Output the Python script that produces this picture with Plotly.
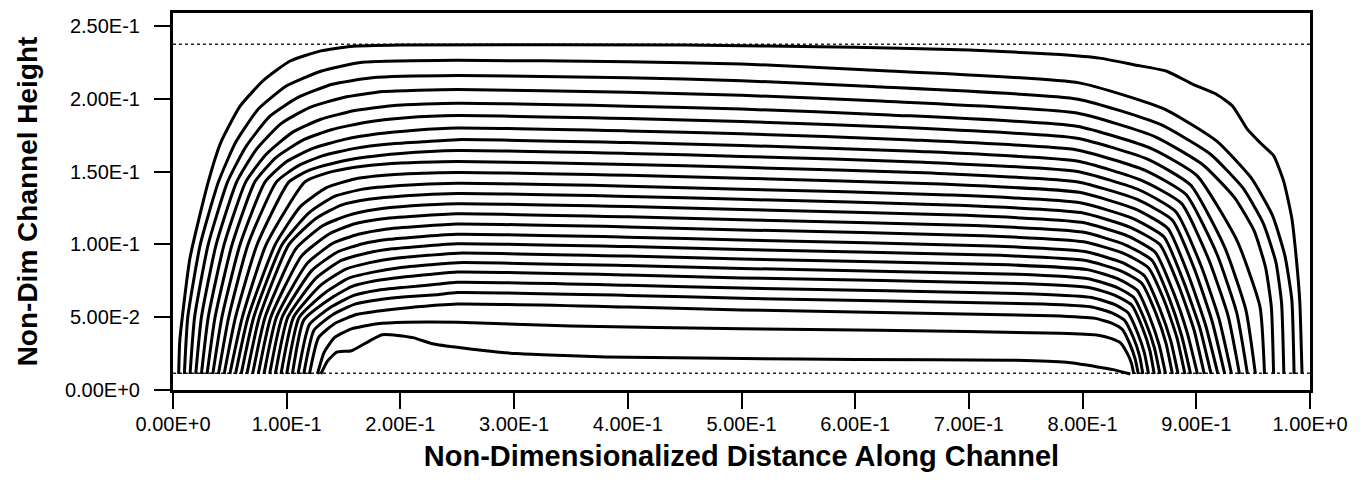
import plotly.graph_objects as go

# ---------------- tick labels ----------------
x_tick_vals = [0.0, 0.1, 0.2, 0.3, 0.4, 0.5, 0.6, 0.7, 0.8, 0.9, 1.0]
x_tick_text = ["0.00E+0", "1.00E-1", "2.00E-1", "3.00E-1", "4.00E-1", "5.00E-1",
               "6.00E-1", "7.00E-1", "8.00E-1", "9.00E-1", "1.00E+0"]
y_tick_vals = [0.0, 0.05, 0.10, 0.15, 0.20, 0.25]
y_tick_text = ["0.00E+0", "5.00E-2", "1.00E-1", "1.50E-1", "2.00E-1", "2.50E-1"]

# channel boundaries (dotted lines)
wall_x = [0.0, 1.0]
wall_top_y = [0.2375, 0.2375]
wall_bot_y = [0.0115, 0.0115]

# ---------------- contour lines (outermost -> innermost) ----------------
c00_x = [0.005, 0.006, 0.015, 0.031, 0.042, 0.059, 0.080, 0.103, 0.130, 0.156, 0.200, 0.450, 0.600, 0.700, 0.780, 0.815, 0.845, 0.874, 0.897, 0.918, 0.932, 0.945, 0.956, 0.968, 0.977, 0.984, 0.988, 0.991, 0.993]
c00_y = [0.011, 0.034, 0.091, 0.143, 0.170, 0.195, 0.213, 0.226, 0.233, 0.236, 0.237, 0.237, 0.2355, 0.2335, 0.2305, 0.228, 0.2235, 0.219, 0.210, 0.203, 0.195, 0.179, 0.170, 0.161, 0.143, 0.118, 0.090, 0.061, 0.011]
c01_x = [0.010, 0.013, 0.024, 0.040, 0.055, 0.075, 0.100, 0.130, 0.165, 0.25, 0.40, 0.50, 0.6075, 0.797, 0.872, 0.918, 0.948, 0.967, 0.978, 0.984, 0.986]
c01_y = [0.011, 0.050, 0.100, 0.143, 0.170, 0.193, 0.209, 0.219, 0.225, 0.2265, 0.2255, 0.224, 0.220, 0.211, 0.193, 0.171, 0.146, 0.120, 0.092, 0.062, 0.011]
c02_x = [0.015, 0.019, 0.031, 0.048, 0.064, 0.085, 0.110, 0.140, 0.175, 0.25, 0.40, 0.50, 0.615, 0.796, 0.868, 0.912, 0.941, 0.959, 0.970, 0.975, 0.977]
c02_y = [0.011, 0.050, 0.100, 0.143, 0.167, 0.188, 0.201, 0.210, 0.2145, 0.216, 0.2145, 0.2125, 0.2085, 0.1998, 0.1826, 0.1623, 0.1388, 0.1143, 0.0878, 0.0596, 0.011]
c03_x = [0.020, 0.025, 0.038, 0.056, 0.073, 0.095, 0.120, 0.150, 0.185, 0.25, 0.40, 0.50, 0.6225, 0.795, 0.864, 0.906, 0.9335, 0.951, 0.961, 0.966, 0.968]
c03_y = [0.011, 0.050, 0.100, 0.143, 0.165, 0.183, 0.194, 0.201, 0.205, 0.2065, 0.2045, 0.2025, 0.1985, 0.1903, 0.1739, 0.1546, 0.1323, 0.1091, 0.0839, 0.0571, 0.011]
c04_x = [0.025, 0.031, 0.045, 0.064, 0.082, 0.105, 0.130, 0.160, 0.195, 0.25, 0.40, 0.50, 0.630, 0.795, 0.861, 0.9006, 0.936, 0.956, 0.960]
c04_y = [0.011, 0.050, 0.100, 0.143, 0.162, 0.177, 0.186, 0.192, 0.1955, 0.197, 0.195, 0.193, 0.189, 0.1812, 0.1657, 0.1473, 0.1023, 0.0573, 0.011]
c05_x = [0.030, 0.037, 0.052, 0.072, 0.091, 0.115, 0.140, 0.170, 0.205, 0.25, 0.40, 0.50, 0.6375, 0.795, 0.858, 0.895, 0.925, 0.9436, 0.952]
c05_y = [0.011, 0.050, 0.100, 0.143, 0.160, 0.172, 0.179, 0.184, 0.187, 0.1885, 0.1865, 0.1845, 0.1805, 0.173, 0.1583, 0.1408, 0.098, 0.0551, 0.011]
c06_x = [0.035, 0.043, 0.059, 0.081, 0.100, 0.123, 0.150, 0.180, 0.213, 0.25, 0.40, 0.50, 0.645, 0.795, 0.855, 0.891, 0.918, 0.9356, 0.945]
c06_y = [0.011, 0.050, 0.100, 0.143, 0.157, 0.166, 0.172, 0.176, 0.1785, 0.180, 0.178, 0.176, 0.172, 0.1649, 0.1509, 0.1343, 0.0936, 0.0529, 0.011]
c07_x = [0.040, 0.049, 0.066, 0.091, 0.110, 0.132, 0.160, 0.190, 0.220, 0.25, 0.40, 0.50, 0.6525, 0.795, 0.852, 0.887, 0.911, 0.928, 0.938]
c07_y = [0.011, 0.050, 0.100, 0.143, 0.154, 0.161, 0.166, 0.169, 0.1705, 0.172, 0.170, 0.168, 0.164, 0.1573, 0.144, 0.1282, 0.0895, 0.0508, 0.011]
c08_x = [0.045, 0.055, 0.074, 0.102, 0.120, 0.142, 0.170, 0.200, 0.25, 0.40, 0.50, 0.660, 0.7955, 0.850, 0.882, 0.904, 0.920, 0.931]
c08_y = [0.011, 0.050, 0.100, 0.143, 0.151, 0.156, 0.160, 0.1625, 0.1645, 0.1625, 0.1605, 0.1565, 0.1501, 0.1374, 0.1225, 0.0857, 0.0489, 0.011]
c09_x = [0.050, 0.061, 0.082, 0.116, 0.135, 0.160, 0.190, 0.25, 0.40, 0.50, 0.6675, 0.796, 0.848, 0.879, 0.899, 0.914, 0.925]
c09_y = [0.011, 0.050, 0.100, 0.143, 0.149, 0.153, 0.1555, 0.157, 0.155, 0.153, 0.149, 0.1429, 0.1309, 0.1167, 0.0818, 0.0469, 0.011]
c10_x = [0.055, 0.066, 0.090, 0.112, 0.135, 0.160, 0.195, 0.25, 0.40, 0.50, 0.675, 0.797, 0.846, 0.875, 0.8935, 0.908, 0.919]
c10_y = [0.011, 0.050, 0.100, 0.126, 0.139, 0.145, 0.148, 0.1495, 0.1475, 0.1455, 0.1415, 0.1358, 0.1244, 0.111, 0.078, 0.045, 0.011]
c11_x = [0.060, 0.071, 0.096, 0.120, 0.142, 0.167, 0.200, 0.25, 0.40, 0.50, 0.6825, 0.798, 0.844, 0.8715, 0.889, 0.903, 0.913]
c11_y = [0.011, 0.050, 0.100, 0.122, 0.133, 0.138, 0.1405, 0.142, 0.140, 0.138, 0.134, 0.1286, 0.1179, 0.1052, 0.0741, 0.043, 0.011]
c12_x = [0.065, 0.076, 0.102, 0.126, 0.148, 0.172, 0.205, 0.25, 0.40, 0.50, 0.690, 0.7985, 0.842, 0.868, 0.885, 0.898, 0.907]
c12_y = [0.011, 0.050, 0.100, 0.118, 0.127, 0.131, 0.1335, 0.135, 0.133, 0.131, 0.127, 0.1219, 0.1118, 0.0999, 0.0706, 0.0412, 0.011]
c13_x = [0.070, 0.081, 0.108, 0.132, 0.154, 0.178, 0.210, 0.25, 0.40, 0.50, 0.6975, 0.799, 0.840, 0.864, 0.880, 0.892, 0.901]
c13_y = [0.011, 0.050, 0.097, 0.113, 0.120, 0.124, 0.1265, 0.128, 0.126, 0.124, 0.120, 0.1152, 0.1057, 0.0945, 0.0669, 0.0394, 0.011]
c14_x = [0.075, 0.086, 0.113, 0.137, 0.159, 0.183, 0.215, 0.25, 0.40, 0.50, 0.705, 0.800, 0.838, 0.861, 0.876, 0.887, 0.895]
c14_y = [0.011, 0.050, 0.092, 0.107, 0.114, 0.1175, 0.1195, 0.121, 0.119, 0.117, 0.113, 0.1085, 0.0996, 0.0891, 0.0633, 0.0376, 0.011]
c15_x = [0.080, 0.091, 0.118, 0.141, 0.163, 0.187, 0.218, 0.25, 0.40, 0.50, 0.7125, 0.801, 0.837, 0.858, 0.8726, 0.883, 0.890]
c15_y = [0.011, 0.050, 0.087, 0.101, 0.107, 0.1105, 0.1125, 0.114, 0.112, 0.110, 0.106, 0.1018, 0.0936, 0.0838, 0.0598, 0.0358, 0.011]
c16_x = [0.085, 0.096, 0.122, 0.145, 0.167, 0.190, 0.220, 0.25, 0.40, 0.50, 0.720, 0.802, 0.835, 0.8545, 0.8677, 0.8775, 0.884]
c16_y = [0.011, 0.050, 0.082, 0.095, 0.1005, 0.1035, 0.1055, 0.107, 0.105, 0.103, 0.099, 0.0951, 0.0875, 0.0784, 0.0562, 0.0339, 0.011]
c17_x = [0.090, 0.101, 0.126, 0.148, 0.170, 0.193, 0.222, 0.25, 0.40, 0.50, 0.7275, 0.803, 0.8335, 0.852, 0.8644, 0.8733, 0.879]
c17_y = [0.011, 0.050, 0.077, 0.089, 0.094, 0.097, 0.099, 0.1005, 0.0985, 0.0965, 0.0925, 0.0889, 0.0818, 0.0734, 0.0528, 0.0322, 0.011]
c18_x = [0.095, 0.106, 0.130, 0.152, 0.173, 0.196, 0.224, 0.25, 0.40, 0.50, 0.735, 0.804, 0.8316, 0.848, 0.8593, 0.8675, 0.873]
c18_y = [0.011, 0.050, 0.072, 0.083, 0.0875, 0.0905, 0.0925, 0.094, 0.092, 0.090, 0.086, 0.0827, 0.0762, 0.0685, 0.0495, 0.0305, 0.011]
c19_x = [0.100, 0.111, 0.134, 0.155, 0.176, 0.199, 0.226, 0.25, 0.40, 0.50, 0.7425, 0.805, 0.830, 0.845, 0.8556, 0.8632, 0.868]
c19_y = [0.011, 0.050, 0.067, 0.077, 0.081, 0.084, 0.086, 0.0875, 0.0855, 0.0835, 0.0795, 0.0765, 0.0705, 0.0635, 0.0462, 0.0288, 0.011]
c20_x = [0.105, 0.115, 0.137, 0.157, 0.178, 0.201, 0.228, 0.25, 0.40, 0.50, 0.750, 0.8065, 0.829, 0.843, 0.8526, 0.8592, 0.863]
c20_y = [0.011, 0.048, 0.062, 0.071, 0.075, 0.0775, 0.0795, 0.081, 0.079, 0.077, 0.073, 0.0703, 0.0649, 0.0585, 0.0428, 0.0271, 0.011]
c21_x = [0.110, 0.120, 0.139, 0.159, 0.180, 0.203, 0.230, 0.25, 0.40, 0.50, 0.7575, 0.808, 0.828, 0.840, 0.8484, 0.8544, 0.858]
c21_y = [0.011, 0.045, 0.057, 0.065, 0.0685, 0.0705, 0.0725, 0.074, 0.072, 0.070, 0.066, 0.0636, 0.0588, 0.0531, 0.0392, 0.0253, 0.011]
c22_x = [0.115, 0.124, 0.141, 0.160, 0.181, 0.205, 0.232, 0.25, 0.40, 0.50, 0.765, 0.809, 0.8266, 0.837, 0.8448, 0.8501, 0.853]
c22_y = [0.011, 0.041, 0.052, 0.059, 0.062, 0.064, 0.0655, 0.067, 0.065, 0.063, 0.059, 0.0569, 0.0527, 0.0478, 0.0357, 0.0235, 0.011]
c23_x = [0.120, 0.128, 0.143, 0.162, 0.183, 0.207, 0.25, 0.40, 0.50, 0.7725, 0.811, 0.826, 0.835, 0.8416, 0.8462, 0.849]
c23_y = [0.011, 0.036, 0.046, 0.052, 0.0545, 0.0565, 0.059, 0.057, 0.055, 0.051, 0.0492, 0.0458, 0.0416, 0.0315, 0.0214, 0.011]
c24_x = [0.127, 0.133, 0.142, 0.157, 0.180, 0.205, 0.25, 0.35, 0.50, 0.62, 0.780, 0.8125, 0.8255, 0.8333, 0.8392, 0.843, 0.845]
c24_y = [0.011, 0.026, 0.036, 0.042, 0.0455, 0.0465, 0.0465, 0.044, 0.042, 0.041, 0.039, 0.0378, 0.0353, 0.0324, 0.0253, 0.0183, 0.011]
c25_x = [0.130, 0.136, 0.144, 0.157, 0.184, 0.211, 0.227, 0.248, 0.275, 0.302, 0.331, 0.381, 0.502, 0.600, 0.737, 0.786, 0.812, 0.827, 0.842]
c25_y = [0.011, 0.020, 0.026, 0.027, 0.038, 0.036, 0.032, 0.0295, 0.027, 0.025, 0.024, 0.0227, 0.0216, 0.021, 0.0205, 0.019, 0.016, 0.014, 0.011]

contours = [
    (c00_x, c00_y), (c01_x, c01_y), (c02_x, c02_y), (c03_x, c03_y), (c04_x, c04_y),
    (c05_x, c05_y), (c06_x, c06_y), (c07_x, c07_y), (c08_x, c08_y), (c09_x, c09_y),
    (c10_x, c10_y), (c11_x, c11_y), (c12_x, c12_y), (c13_x, c13_y), (c14_x, c14_y),
    (c15_x, c15_y), (c16_x, c16_y), (c17_x, c17_y), (c18_x, c18_y), (c19_x, c19_y),
    (c20_x, c20_y), (c21_x, c21_y), (c22_x, c22_y), (c23_x, c23_y), (c24_x, c24_y),
    (c25_x, c25_y),
]

FONT = "Liberation Sans, Arial, sans-serif"

fig = go.Figure()

for wy in (wall_top_y, wall_bot_y):
    fig.add_trace(go.Scatter(x=wall_x, y=wy, mode="lines",
                             line=dict(color="#222222", width=1.6, dash="dot"),
                             showlegend=False, hoverinfo="skip"))

for cx, cy in contours:
    fig.add_trace(go.Scatter(x=cx, y=cy, mode="lines",
                             line=dict(color="black", width=3, shape="spline", smoothing=0.5),
                             showlegend=False))

axis_common = dict(showline=True, linecolor="black", linewidth=3, mirror=True,
                   ticks="outside", ticklen=16, tickwidth=2, tickcolor="black",
                   showgrid=False, zeroline=False,
                   tickfont=dict(family=FONT, size=20, color="black"))

fig.update_layout(
    width=1372, height=487,
    margin=dict(l=173, r=62, t=10, b=97),
    paper_bgcolor="white", plot_bgcolor="white",
    showlegend=False,
    xaxis=dict(range=[0, 1.0], tickvals=x_tick_vals, ticktext=x_tick_text,
               ticklabelstandoff=-2,
               title=dict(text="<b>Non-Dimensionalized Distance Along Channel</b>",
                          font=dict(family=FONT, size=29, color="black"),
                          standoff=12),
               **axis_common),
    yaxis=dict(range=[0, 0.259], tickvals=y_tick_vals, ticktext=y_tick_text,
               ticklabelstandoff=10,
               title=dict(text="<b>Non-Dim Channel Height</b>",
                          font=dict(family=FONT, size=28, color="black"),
                          standoff=20),
               **axis_common),
)

fig.write_html("out.html")
